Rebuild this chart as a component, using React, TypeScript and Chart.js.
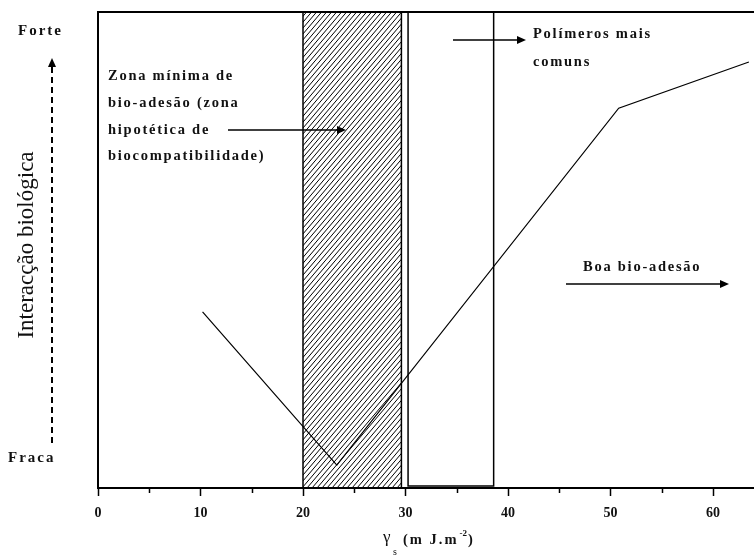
import React, { useEffect, useRef } from "react";
import { Chart, registerables } from "chart.js";
Chart.register(...registerables);

// ---- data ----
const curveX = [10.2, 23.3, 50.8, 63.5];
const curveY = [37.0, 4.8, 79.8, 89.5];
const xTicks = [0, 10, 20, 30, 40, 50, 60];
const minorTicks = [5, 15, 25, 35, 45, 55];
const xRange = [0, 64];
const yRange = [0, 100];
const hatchZone = [20, 29.6];
const polymerZone = [30.25, 38.6];
const zoneText = ["Zona mínima de", "bio-adesão (zona", "hipotética de", "biocompatibilidade)"];
const polymerText = ["Polímeros mais", "comuns"];
const goodText = "Boa bio-adesão";
const yTitle = "Interacção biológica";
const yHigh = "Forte";
const yLow = "Fraca";

const SERIF = "'Liberation Serif', 'DejaVu Serif', serif";

function arrow(ctx: CanvasRenderingContext2D, x1: number, y1: number, x2: number, y2: number, dash?: number[]) {
  const ang = Math.atan2(y2 - y1, x2 - x1);
  const hl = 9, hw = 4;
  ctx.save();
  ctx.strokeStyle = "#000";
  ctx.fillStyle = "#000";
  ctx.lineWidth = dash ? 2 : 1.5;
  if (dash) ctx.setLineDash(dash);
  ctx.beginPath();
  ctx.moveTo(x1, y1);
  ctx.lineTo(x2 - Math.cos(ang) * hl * 0.6, y2 - Math.sin(ang) * hl * 0.6);
  ctx.stroke();
  ctx.setLineDash([]);
  ctx.beginPath();
  ctx.moveTo(x2, y2);
  ctx.lineTo(x2 - Math.cos(ang) * hl - Math.sin(ang) * hw, y2 - Math.sin(ang) * hl + Math.cos(ang) * hw);
  ctx.lineTo(x2 - Math.cos(ang) * hl + Math.sin(ang) * hw, y2 - Math.sin(ang) * hl - Math.cos(ang) * hw);
  ctx.closePath();
  ctx.fill();
  ctx.restore();
}

const zonesPlugin = {
  id: "zones",
  beforeDatasetsDraw(chart: any) {
    const { ctx, chartArea, scales } = chart;
    const x = scales.x;
    const top = chartArea.top, bottom = chartArea.bottom;
    const xl = x.getPixelForValue(hatchZone[0]);
    const xr = x.getPixelForValue(hatchZone[1]);
    ctx.save();
    ctx.beginPath();
    ctx.rect(xl, top, xr - xl, bottom - top);
    ctx.clip();
    ctx.strokeStyle = "#000";
    ctx.lineWidth = 1;
    const H = bottom - top;
    ctx.beginPath();
    for (let k = -H; k < xr - xl + 5; k += 5) {
      ctx.moveTo(xl + k, bottom);
      ctx.lineTo(xl + k + H * 0.85, top);
    }
    ctx.stroke();
    ctx.restore();

    ctx.save();
    ctx.strokeStyle = "#000";
    ctx.lineWidth = 1.5;
    ctx.strokeRect(xl, top, xr - xl, bottom - top);
    const pl = x.getPixelForValue(polymerZone[0]);
    const pr = x.getPixelForValue(polymerZone[1]);
    ctx.lineWidth = 1.5;
    ctx.strokeRect(pl, top, pr - pl, bottom - top - 2);
    ctx.restore();
  },
  afterDraw(chart: any) {
    const { ctx, chartArea, scales } = chart;
    const x = scales.x;
    ctx.save();
    // top frame
    ctx.strokeStyle = "#000";
    ctx.lineWidth = 2;
    ctx.beginPath();
    ctx.moveTo(chartArea.left - 1, chartArea.top);
    ctx.lineTo(chartArea.right, chartArea.top);
    ctx.stroke();
    // minor ticks
    ctx.lineWidth = 1.5;
    ctx.beginPath();
    for (const v of minorTicks) {
      const px = Math.round(x.getPixelForValue(v)) + 0.5;
      ctx.moveTo(px, chartArea.bottom);
      ctx.lineTo(px, chartArea.bottom + 5);
    }
    ctx.stroke();

    ctx.fillStyle = "#111";
    ctx.textBaseline = "middle";
    ctx.textAlign = "left";
    (ctx as any).letterSpacing = "2px";
    ctx.font = `bold 15px ${SERIF}`;
    ctx.fillText(yHigh, 18, 31);
    ctx.fillText(yLow, 8, 458);

    (ctx as any).letterSpacing = "1.75px";
    ctx.font = `bold 14.5px ${SERIF}`;
    const zy = [76, 103, 130, 156];
    zoneText.forEach((t, i) => ctx.fillText(t, 108, zy[i]));
    ctx.fillText(polymerText[0], 533, 34);
    ctx.fillText(polymerText[1], 533, 62);
    ctx.fillText(goodText, 583, 267);

    // x axis title: gamma_s (m J.m^-2)
    const pieces: [string, string, string, number, number][] = [
      ["γ", `17px ${SERIF}`, "0px", 383, 538],
      ["s", `10px ${SERIF}`, "0px", 393, 552],
      ["(m J.m", `bold 14.5px ${SERIF}`, "2px", 403, 540],
      ["-2", `bold 9px ${SERIF}`, "0px", 0, 534],
      [")", `bold 14.5px ${SERIF}`, "0px", 0, 540],
    ];
    let cx = 0;
    for (const [t, f, ls, px, py] of pieces) {
      ctx.font = f;
      (ctx as any).letterSpacing = ls;
      const xx = px || cx;
      ctx.fillText(t, xx, py);
      cx = xx + ctx.measureText(t).width + 1;
    }

    // y title rotated
    (ctx as any).letterSpacing = "0px";
    ctx.save();
    ctx.translate(33, 245);
    ctx.rotate(-Math.PI / 2);
    ctx.textAlign = "center";
    ctx.textBaseline = "alphabetic";
    ctx.font = `23px ${SERIF}`;
    ctx.fillText(yTitle, 0, 0);
    ctx.restore();
    ctx.restore();

    // arrows
    arrow(ctx, 52, 443, 52, 58, [6, 4]);
    arrow(ctx, 228, 130, 346, 130);
    arrow(ctx, 453, 40, 526, 40);
    arrow(ctx, 566, 284, 729, 284);
  },
};

export default function App() {
  const ref = useRef<HTMLCanvasElement | null>(null);
  useEffect(() => {
    if (!ref.current) return;
    const chart = new Chart(ref.current, {
      type: "line",
      data: {
        datasets: [
          {
            data: curveX.map((v, i) => ({ x: v, y: curveY[i] })),
            borderColor: "#000",
            borderWidth: 1.2,
            pointRadius: 0,
            tension: 0,
            fill: false,
          },
        ],
      },
      options: {
        animation: false,
        responsive: false,
        maintainAspectRatio: false,
        layout: { padding: { top: 12, right: 0, left: 0, bottom: 0 } },
        plugins: { legend: { display: false }, tooltip: { enabled: false } },
        scales: {
          x: {
            type: "linear",
            min: xRange[0],
            max: xRange[1],
            afterBuildTicks: (s: any) => {
              s.ticks = xTicks.map((v) => ({ value: v }));
            },
            afterFit: (s: any) => {
              s.height = 69;
            },
            ticks: {
              color: "#111",
              font: { family: SERIF, size: 14, weight: "bold" },
              padding: 9,
              callback: (v: any) => String(v),
            },
            grid: {
              drawOnChartArea: false,
              drawTicks: true,
              tickLength: 8,
              tickWidth: 1.5,
              tickColor: "#000",
            },
            border: { display: true, width: 2, color: "#000" },
          },
          y: {
            type: "linear",
            min: yRange[0],
            max: yRange[1],
            afterFit: (s: any) => {
              s.width = 98;
            },
            ticks: { display: false },
            grid: { display: false, drawTicks: false },
            border: { display: true, width: 2, color: "#000" },
          },
        },
      },
      plugins: [zonesPlugin],
    });
    return () => chart.destroy();
  }, []);
  return (
    <div style={{ position: "fixed", left: 0, top: 0, width: 754, height: 557, background: "#fff" }}>
      <canvas ref={ref} width={754} height={557} style={{ width: 754, height: 557, display: "block" }} />
    </div>
  );
}
